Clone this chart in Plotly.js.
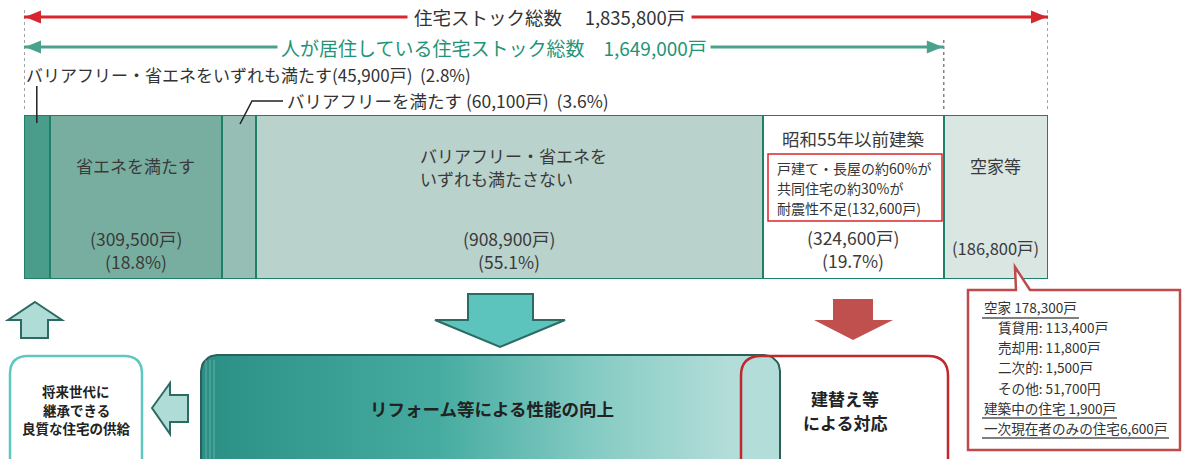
<!DOCTYPE html>
<html><head><meta charset="utf-8">
<script src="https://cdn.plot.ly/plotly-3.0.1.min.js"></script>
<style>html,body{margin:0;padding:0;background:#fff;overflow:hidden}</style>
</head><body><div id="chart" style="width:1182px;height:459px"></div>
<script>
// ---- data ----
const categories = ['バリアフリー・省エネをいずれも満たす', '省エネを満たす', 'バリアフリーを満たす', 'バリアフリー・省エネをいずれも満たさない', '昭和55年以前建築', '空家等'];
const units = [45900, 309500, 60100, 908900, 324600, 186800];
const shares = [2.8, 18.8, 3.6, 55.1, 19.7, null];
const totalStock = 1835800;
const occupiedStock = 1649000;
const seismicShortage = 132600;
const vacancyLabels = ['空家', '賃貸用', '売却用', '二次的', 'その他', '建築中の住宅', '一次現在者のみの住宅'];
const vacancyValues = [178300, 113400, 11800, 1500, 51700, 1900, 6600];

// ---- styles ----
const segColors = ['#4a9c8b', '#77ae9f', '#97beb5', '#b9d2cc', '#ffffff', '#d9e6e2'];
const FONT = '"Noto Sans CJK JP", "Noto Sans", sans-serif';
const W = 1182, H = 459;
const fmt = v => v.toLocaleString('en-US');

const traces = categories.map((c, i) => ({
  type: 'bar', orientation: 'h', name: c,
  x: [units[i]], y: [0], width: 1,
  marker: {color: segColors[i], line: {color: '#1d8068', width: 2}},
  hoverinfo: 'skip', showlegend: false
}));

const cum = [];
units.reduce((a, v, i) => { cum[i] = a; return a + v; }, 0);
const mid = i => cum[i] + units[i] / 2;

function roundPoly(x0, y0, x1, y1, rl, rr) {
  const xs = [], ys = [];
  const arc = (cx, cy, r, a0, a1) => {
    for (let k = 0; k <= 8; k++) {
      const a = a0 + (a1 - a0) * k / 8;
      xs.push(cx + r * Math.cos(a)); ys.push(cy + r * Math.sin(a));
    }
  };
  arc(x0 + rl, y1 - rl, rl, Math.PI / 2, Math.PI);
  arc(x0 + rl, y0 + rl, rl, Math.PI, 1.5 * Math.PI);
  arc(x1 - rr, y0 + rr, rr, 1.5 * Math.PI, 2 * Math.PI);
  arc(x1 - rr, y1 - rr, rr, 0, Math.PI / 2);
  xs.push(xs[0]); ys.push(ys[0]);
  return {xs, ys};
}
const gb = roundPoly(201, 355, 780, 490, 16, 16);
traces.push({
  type: 'scatter', x: gb.xs, y: gb.ys, xaxis: 'x2', yaxis: 'y2', mode: 'lines',
  line: {color: '#2d5f5a', width: 2}, fill: 'toself',
  fillgradient: {type: 'horizontal', start: 201, stop: 730,
    colorscale: [[0, '#2a8f84'], [0.45, '#46aca1'], [0.75, '#86ccc4'], [1, '#b3ddd9']]},
  hoverinfo: 'skip', showlegend: false
});

function rr(x0, y0, x1, y1, r) {
  return `M${x0 + r},${y0} L${x1 - r},${y0} Q${x1},${y0} ${x1},${y0 + r} L${x1},${y1 - r} Q${x1},${y1} ${x1 - r},${y1} L${x0 + r},${y1} Q${x0},${y1} ${x0},${y1 - r} L${x0},${y0 + r} Q${x0},${y0} ${x0 + r},${y0} Z`;
}
const poly = pts => 'M' + pts.map(p => p.join(',')).join(' L') + ' Z';

const P = {xref: 'x2', yref: 'y2'};
const shapes = [];
[0, occupiedStock, totalStock].forEach((v, i) => {
  shapes.push({type: 'line', xref: 'x', yref: 'y2', x0: v, x1: v, y0: i === 1 ? 40 : 10, y1: 112,
    line: {color: '#666', width: 1.2, dash: 'dot'}});
});
const arrowDefs = [
  {v: totalStock, y: 17, color: '#d7262e'},
  {v: occupiedStock, y: 47, color: '#4aa18d'}
];
arrowDefs.forEach(a => {
  shapes.push({type: 'line', xref: 'x', yref: 'y2', x0: 0, x1: a.v, y0: a.y, y1: a.y,
    line: {color: a.color, width: 3}});
});
const xpx = v => 24 + v / totalStock * 1024;
arrowDefs.forEach(a => {
  const l = xpx(0) + 1, r = xpx(a.v) - 1;
  shapes.push({type: 'path', ...P, path: poly([[l, a.y], [l + 16, a.y - 6.5], [l + 16, a.y + 6.5]]),
    fillcolor: a.color, line: {width: 0}});
  shapes.push({type: 'path', ...P, path: poly([[r, a.y], [r - 16, a.y - 6.5], [r - 16, a.y + 6.5]]),
    fillcolor: a.color, line: {width: 0}});
});
shapes.push({type: 'line', xref: 'x', yref: 'y2', x0: mid(0), x1: mid(0), y0: 86, y1: 123,
  line: {color: '#222', width: 1.5}});
shapes.push({type: 'path', ...P, path: 'M240,124 L252,101 L283,101', line: {color: '#222', width: 1.5}});
shapes.push({type: 'rect', ...P, x0: 768, x1: 942, y0: 154, y1: 221, line: {color: '#d9262b', width: 1.5}});
shapes.push({type: 'path', ...P,
  path: 'M968,290 L1016,290 L1015,267 L1030,290 L1180,290 L1180,450 L968,450 Z',
  fillcolor: '#ffffff', line: {color: '#bf4a4c', width: 2.5}});
[[982, 1079, 318], [982, 1117, 418], [982, 1169, 438]].forEach(u => {
  shapes.push({type: 'line', ...P, x0: u[0], x1: u[1], y0: u[2], y1: u[2], line: {color: '#555', width: 1.5}});
});
shapes.push({type: 'path', ...P, path: poly([[35, 302], [62, 320], [48, 320], [48, 338], [21, 338], [21, 320], [8, 320]]),
  fillcolor: '#b0dcd8', line: {color: '#2c6b64', width: 2}});
shapes.push({type: 'path', ...P, path: rr(10, 356, 142, 490, 18), fillcolor: '#ffffff', line: {color: '#5ec7bf', width: 2.5}});
shapes.push({type: 'path', ...P, path: poly([[152, 408], [170, 383], [170, 395], [188, 395], [188, 422], [170, 422], [170, 434]]),
  fillcolor: '#b0dcd8', line: {color: '#2c6b64', width: 2}});
shapes.push({type: 'path', ...P, path: poly([[468, 294], [533, 294], [533, 320], [565, 320], [500, 347], [435, 320], [468, 320]]),
  fillcolor: '#5cc4bc', line: {color: '#2c6b64', width: 2}});
shapes.push({type: 'path', ...P, path: poly([[833, 299], [873, 299], [873, 320], [893, 320], [853, 340], [814, 320], [833, 320]]),
  fillcolor: '#c0504d', line: {width: 0}});
[206, 210, 214].forEach(x => shapes.push({type: 'line', ...P, x0: x, x1: x, y0: 360, y1: 459,
  line: {color: 'rgba(255,255,255,0.35)', width: 0.8}}));
shapes.push({type: 'path', ...P, path: rr(741, 356, 948, 490, 20), fillcolor: 'rgba(0,0,0,0)', line: {color: '#c0282d', width: 2.5}});

const ann = [];
const T = (x, y, text, size, opts = {}) => ann.push(Object.assign({
  xref: 'x2', yref: 'y2', x, y, text, showarrow: false, xanchor: 'center', yanchor: 'middle',
  font: {family: FONT, size, color: '#333'}
}, opts));
const pct = v => `(${v}%)`;
const hu = v => `(${fmt(v)}戸)`;

T(549, 17, `住宅ストック総数　 ${fmt(totalStock)}戸`, 18.5, {bgcolor: '#ffffff', borderpad: 6});
T(494, 47, `人が居住している住宅ストック総数　${fmt(occupiedStock)}戸`, 19,
  {bgcolor: '#ffffff', borderpad: 3, font: {family: FONT, size: 19, color: '#1f9478'}});
T(24, 74, `${categories[0]}${hu(units[0])}  ${pct(shares[0])}`, 17, {xanchor: 'left'});
T(285, 100, `${categories[2]} ${hu(units[2])}  ${pct(shares[2])}`, 17.5, {xanchor: 'left'});

const BT = (i, y, text, size, opts = {}) => ann.push(Object.assign({
  xref: 'x', yref: 'y2', x: mid(i), y, text, showarrow: false, xanchor: 'center', yanchor: 'middle',
  font: {family: FONT, size, color: '#3a3a3a'}
}, opts));
BT(1, 165, categories[1], 17);
BT(1, 238, hu(units[1]), 17.5); BT(1, 261, pct(shares[1]), 17.5);
BT(3, 155, 'バリアフリー・省エネを', 17, {xanchor: 'left', xshift: -91});
BT(3, 178, 'いずれも満たさない', 17, {xanchor: 'left', xshift: -91});
BT(3, 238, hu(units[3]), 17.5); BT(3, 261, pct(shares[3]), 17.5);
BT(4, 138, categories[4], 17.5);
BT(4, 237, hu(units[4]), 17.5); BT(4, 260, pct(shares[4]), 17.5);
BT(5, 165, categories[5], 17);
BT(5, 248, hu(units[5]), 16.5);
['戸建て・長屋の約60%が', '共同住宅の約30%が', `耐震性不足${hu(seismicShortage)}`].forEach((t, k) =>
  T(775, 168 + k * 20, t, 14, {xanchor: 'left'}));

const cl = [
  [982, 307, `${vacancyLabels[0]} ${fmt(vacancyValues[0])}戸`],
  [996, 327, `${vacancyLabels[1]}: ${fmt(vacancyValues[1])}戸`],
  [996, 347, `${vacancyLabels[2]}: ${fmt(vacancyValues[2])}戸`],
  [996, 367, `${vacancyLabels[3]}: ${fmt(vacancyValues[3])}戸`],
  [996, 388, `${vacancyLabels[4]}: ${fmt(vacancyValues[4])}円`],
  [982, 408, `${vacancyLabels[5]} ${fmt(vacancyValues[5])}戸`],
  [982, 428, `${vacancyLabels[6]}${fmt(vacancyValues[6])}戸`]
];
cl.forEach(c => T(c[0], c[1], c[2], 13.6, {xanchor: 'left'}));

const bold = (size) => ({family: FONT, size, color: '#222', weight: 'bold'});
['将来世代に', '継承できる', '良質な住宅の供給'].forEach((t, k) =>
  T(76, 391 + k * 18.5, t, 13.5, {font: bold(13.5)}));
T(492, 408, 'リフォーム等による性能の向上', 17.5, {font: bold(17.5)});
T(845, 398, '建替え等', 17, {font: bold(17)});
T(845, 422, 'による対応', 17, {font: bold(17)});

const layout = {
  width: W, height: H, margin: {l: 0, r: 0, t: 0, b: 0},
  paper_bgcolor: '#ffffff', plot_bgcolor: 'rgba(0,0,0,0)',
  barmode: 'stack', bargap: 0, showlegend: false,
  xaxis: {domain: [24 / W, 1048 / W], range: [0, totalStock], visible: false, fixedrange: true, anchor: 'y'},
  yaxis: {domain: [1 - 279 / H, 1 - 115 / H], range: [-0.5, 0.5], visible: false, fixedrange: true, anchor: 'x'},
  xaxis2: {domain: [0, 1], range: [0, W], visible: false, fixedrange: true, anchor: 'y2'},
  yaxis2: {domain: [0, 1], range: [H, 0], visible: false, fixedrange: true, anchor: 'x2'},
  shapes, annotations: ann,
  font: {family: FONT}
};
Plotly.newPlot('chart', traces, layout, {displayModeBar: false, staticPlot: true});
</script></body></html>
